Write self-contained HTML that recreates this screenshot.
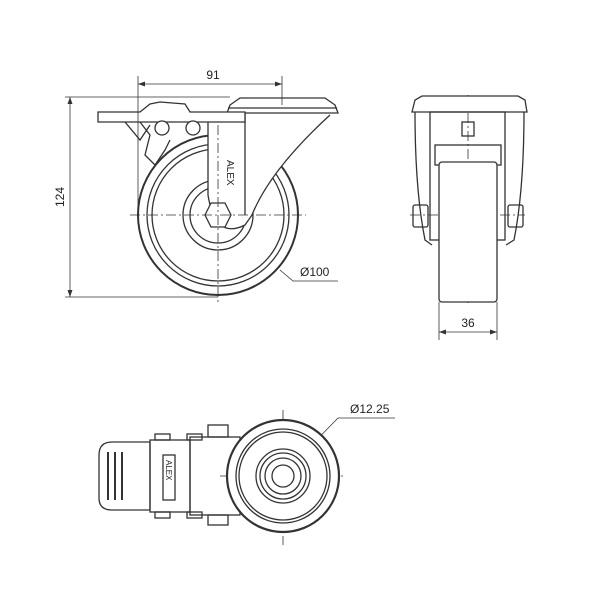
<!DOCTYPE html>
<html><head><meta charset="utf-8"><style>body{margin:0;background:#fff}svg{display:block}</style></head><body>
<svg width="600" height="600" viewBox="0 0 600 600" xmlns="http://www.w3.org/2000/svg" font-family="Liberation Sans, sans-serif">
<g fill="none" stroke="#333" stroke-width="1.3">
<!-- side view wheel -->
<circle cx="218" cy="215" r="80" stroke-width="2"/>
<circle cx="218" cy="215" r="71"/>
<circle cx="218" cy="215" r="66"/>
<circle cx="218" cy="215" r="35"/>
<circle cx="218" cy="215" r="28"/>
<!-- fork -->
<path d="M208,113 L208,195 Q215,240 245,225 L252,215 Q270,170 330,115" fill="#fff"/>
<line x1="245" y1="113" x2="245" y2="215"/>
<polygon points="211,203 225,203 231,215 225,227 211,227 205,215" fill="#fff"/>
<!-- top plate -->
<path d="M227,113 L338,113 L335,105 L325,98 L240,98 L230,105 Z" fill="#fff"/>
<line x1="228" y1="108" x2="337" y2="108"/>
<!-- brake lever -->
<path d="M98,112 L140,112 L150,104 L160,102 L185,104 L190,112 L245,112 L245,122 L98,122 Z" fill="#fff"/>
<path d="M140,122 L150,135 L145,155 L155,165 L165,150 L170,140" />
<path d="M125,122 L140,140 L150,125"/>
<circle cx="162" cy="128" r="7" fill="#fff"/>
<circle cx="193" cy="128" r="7" fill="#fff"/>
<!-- center lines -->
<g stroke-width="0.8" stroke-dasharray="10,3,2,3">
<line x1="130" y1="215" x2="306" y2="215"/>
<line x1="218" y1="125" x2="218" y2="305"/>
<line x1="468" y1="95" x2="468" y2="305"/>
<line x1="410" y1="215" x2="525" y2="215"/>
<line x1="220" y1="476" x2="345" y2="476"/>
<line x1="283" y1="410" x2="283" y2="545"/>
</g>
<!-- dims -->
<g stroke-width="0.8">
<line x1="138" y1="76" x2="138" y2="215"/>
<line x1="282" y1="76" x2="282" y2="105"/>
<line x1="138" y1="84" x2="282" y2="84"/>
<line x1="65" y1="97" x2="230" y2="97"/>
<line x1="65" y1="297" x2="218" y2="297"/>
<line x1="70" y1="97" x2="70" y2="297"/>
<path d="M280,270 L293,281 L338,281"/>
<line x1="439" y1="302" x2="439" y2="340"/>
<line x1="497" y1="302" x2="497" y2="340"/>
<line x1="439" y1="332" x2="497" y2="332"/>
<path d="M262,496 L338,418 L395,418"/>
</g>
<g fill="#333" stroke="none">
<path d="M138,84 l7,-2.5 v5z M282,84 l-7,-2.5 v5z M70,97 l-2.5,7 h5z M70,297 l-2.5,-7 h5z M439,332 l7,-2.5 v5z M497,332 l-7,-2.5 v5z"/>
</g>
<!-- front view -->
<path d="M412,112 L415,100 L422,96 L518,96 L525,100 L527,112 Z" fill="#fff"/>
<path d="M415,112 Q415,190 425,240 L432,245 M524,112 Q524,190 514,240 L506,245"/>
<rect x="430" y="112" width="75" height="128"/>
<rect x="435" y="145" width="66" height="20"/>
<rect x="462" y="122" width="12" height="14"/>
<rect x="439" y="162" width="58" height="140" rx="3" fill="#fff"/>
<rect x="413" y="205" width="15" height="22" rx="2"/>
<rect x="508" y="205" width="15" height="22" rx="2"/>
<!-- bottom view -->
<path d="M150,442 L112,442 Q99,442 99,455 L99,498 Q99,510 112,510 L150,510 Z"/>
<line x1="108" y1="452" x2="108" y2="500" stroke-width="2"/>
<line x1="115" y1="452" x2="115" y2="500" stroke-width="2"/>
<line x1="122" y1="452" x2="122" y2="500" stroke-width="2"/>
<rect x="150" y="440" width="40" height="72"/>
<rect x="155" y="434" width="15" height="6"/>
<rect x="187" y="434" width="15" height="6"/>
<rect x="155" y="512" width="15" height="6"/>
<rect x="187" y="512" width="15" height="6"/>
<rect x="163" y="455" width="12" height="45"/>
<rect x="190" y="437" width="50" height="78"/>
<rect x="208" y="425" width="20" height="12"/>
<rect x="208" y="515" width="20" height="10"/>
<circle cx="283" cy="476" r="56" stroke-width="2.2" fill="#fff"/>
<circle cx="283" cy="476" r="47"/>
<circle cx="283" cy="476" r="44"/>
<circle cx="283" cy="476" r="27"/>
<circle cx="283" cy="476" r="23"/>
<circle cx="283" cy="476" r="18"/>
<circle cx="283" cy="476" r="11"/>
</g>
<g fill="#222" font-size="12">
<text x="213" y="79" text-anchor="middle">91</text>
<text x="64" y="197" text-anchor="middle" transform="rotate(-90 64 197)">124</text>
<text x="300" y="276">Ø100</text>
<text x="468" y="327" text-anchor="middle">36</text>
<text x="350" y="413">Ø12.25</text>
<text x="227" y="160" font-size="10" transform="rotate(90 227 160)">ALEX</text>
<text x="166" y="460" font-size="8" transform="rotate(90 166 460)">ALEX</text>
</g>
</svg>
</body></html>
